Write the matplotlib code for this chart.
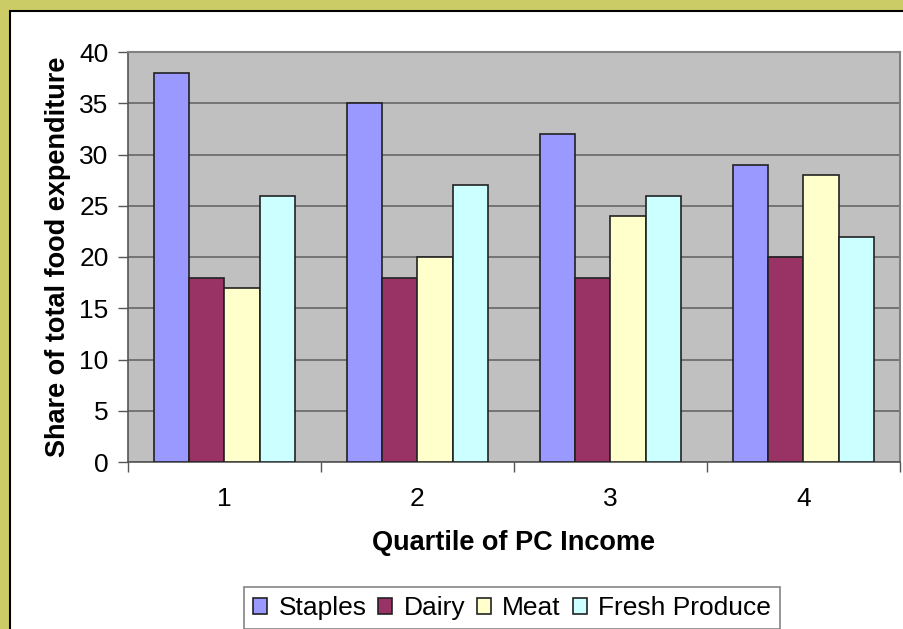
import numpy as np
import matplotlib.pyplot as plt
from matplotlib.patches import Rectangle

plt.rcParams['font.family'] = ['Liberation Sans', 'DejaVu Sans']

quartiles = ['1', '2', '3', '4']
staples = [38, 35, 32, 29]
dairy = [18, 18, 18, 20]
meat = [17, 20, 24, 28]
fresh_produce = [26, 27, 26, 22]

series = [
    ('Staples', staples, '#9999FF'),
    ('Dairy', dairy, '#993366'),
    ('Meat', meat, '#FFFFCC'),
    ('Fresh Produce', fresh_produce, '#CCFFFF'),
]

W, H = 904, 629
fig = plt.figure(figsize=(W / 100, H / 100), dpi=100)
fig.patch.set_facecolor('#CCCC66')

# white chart area inside the olive frame
frame = Rectangle((10 / W, -0.01), 1, 1.01 - 11 / H, transform=fig.transFigure,
                  facecolor='white', edgecolor='black', linewidth=1.5, zorder=-10)
fig.patches.append(frame)

ax = fig.add_axes([128 / W, 1 - 462 / H, (900 - 128) / W, (462 - 52) / H])
ax.set_facecolor('#C0C0C0')

n = len(series)
bar_w = 1 / (n + 1.5)
x = np.arange(len(quartiles))
for i, (name, vals, col) in enumerate(series):
    offs = (i - (n - 1) / 2) * bar_w
    ax.bar(x + offs, vals, width=bar_w, color=col, edgecolor='#222222',
           linewidth=1.2, label=name, zorder=3)

ax.set_xlim(-0.5, len(quartiles) - 0.5)
ax.set_ylim(0, 40)
ax.set_yticks(range(0, 41, 5))
ax.yaxis.grid(True, color='#6E6E6E', linewidth=1.3, zorder=1)
ax.set_axisbelow(True)

ax.set_xticks(x)
ax.set_xticklabels(quartiles)
ax.set_xticks(np.arange(-0.5, len(quartiles)), minor=True)
ax.tick_params(axis='x', which='major', length=0, pad=18, labelsize=19)
ax.tick_params(axis='x', which='minor', length=7, width=1, color='#555555')
ax.tick_params(axis='y', length=7, width=1, color='#555555', labelsize=19, pad=7)

for side in ('top', 'right'):
    ax.spines[side].set_color('#808080')
    ax.spines[side].set_linewidth(1.5)
for side in ('left', 'bottom'):
    ax.spines[side].set_color('#555555')
    ax.spines[side].set_linewidth(1.2)

ax.set_xlabel('Quartile of PC Income', fontsize=19.5, fontweight='bold', labelpad=14)
ax.set_ylabel('Share of total food expenditure', fontsize=19.5, fontweight='bold', labelpad=6)

leg = fig.legend(loc='upper center', bbox_to_anchor=(512 / W, 1 - 587 / H), ncol=4,
                 fontsize=19, frameon=True, fancybox=False, handlelength=0.53,
                 handleheight=0.53, handletextpad=0.42, columnspacing=0.45,
                 borderpad=0.35, borderaxespad=0)
leg.get_frame().set_edgecolor('#666666')
leg.get_frame().set_linewidth(1.2)

fig.savefig('out.png', dpi=100)
